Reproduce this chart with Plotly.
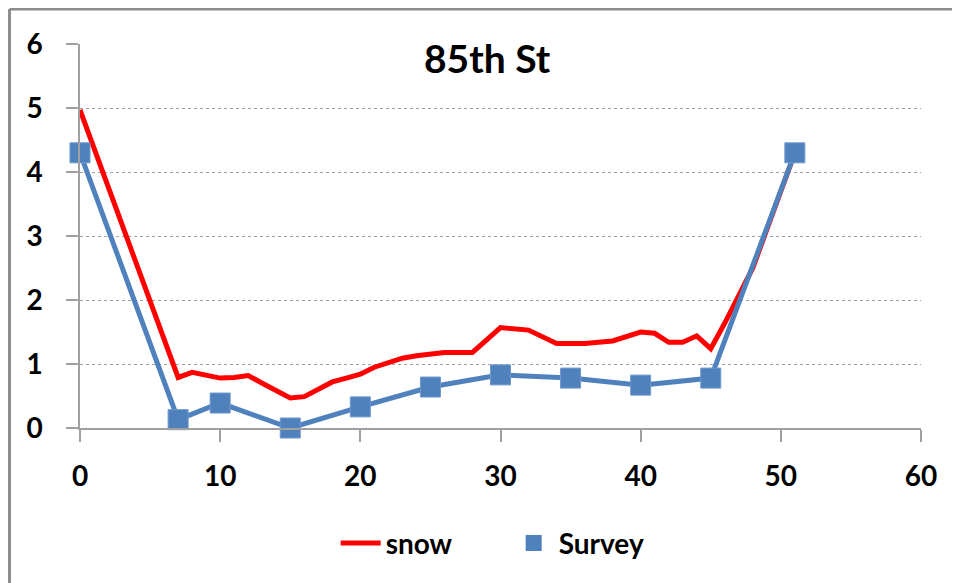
import plotly.graph_objects as go

# Snow profile (depth along transect)
snow_x = [0, 7, 8, 9, 10, 11, 12, 13, 14, 15, 16, 17, 18, 19, 20, 21, 22, 23, 24, 25,
          26, 27, 28, 30, 32, 34, 36, 38, 40, 41, 42, 43, 44, 45, 46, 48, 51]
snow_y = [4.97, 0.79, 0.87, 0.83, 0.78, 0.79, 0.82, 0.70, 0.58, 0.47, 0.49, 0.60, 0.72,
          0.78, 0.84, 0.95, 1.03, 1.09, 1.13, 1.16, 1.18, 1.18, 1.18, 1.57, 1.53, 1.32,
          1.32, 1.36, 1.50, 1.48, 1.34, 1.34, 1.44, 1.24, 1.64, 2.50, 4.30]

# Survey points
survey_x = [0, 7, 10, 15, 20, 25, 30, 35, 40, 45, 51]
survey_y = [4.30, 0.13, 0.39, 0.00, 0.33, 0.64, 0.83, 0.78, 0.67, 0.78, 4.30]

x_ticks = [0, 10, 20, 30, 40, 50, 60]
y_ticks = [0, 1, 2, 3, 4, 5, 6]
title_text = "85th St"

FONT = "Lato"
BLUE = "#4F81BD"
RED = "#FF0000"
AX = "#A0A0A0"

fig = go.Figure()
fig.add_trace(go.Scatter(x=snow_x, y=snow_y, mode="lines", name="snow",
                         line=dict(color=RED, width=5), cliponaxis=False))
fig.add_trace(go.Scatter(x=survey_x, y=survey_y, mode="lines+markers", name="Survey",
                         line=dict(color=BLUE, width=5),
                         marker=dict(symbol="square", size=20, color=BLUE,
                                     line=dict(color="#6E97CC", width=1)),
                         showlegend=False, cliponaxis=False))
fig.add_trace(go.Scatter(x=[None], y=[None], mode="markers", name="Survey",
                         marker=dict(symbol="square", size=19, color=BLUE)))

fig.update_layout(
    width=952, height=575,
    margin=dict(l=72, r=39, t=36, b=155, pad=0),
    paper_bgcolor="white", plot_bgcolor="white",
    font=dict(family=FONT, color="black"),
    showlegend=True,
    legend=dict(orientation="h", x=0.304, xanchor="left", y=-0.30, yanchor="middle",
                font=dict(family=FONT, size=28, weight="bold"),
                entrywidth=118, itemwidth=40),
    annotations=[dict(text=title_text, xref="paper", yref="paper", x=0.485, y=0.963,
                      xanchor="center", yanchor="middle", showarrow=False,
                      font=dict(family=FONT, size=39, weight="bold"))],
    shapes=[
        dict(type="line", xref="paper", yref="paper", x0=-0.0838, x1=-0.0838,
             y0=1.0911, y1=-0.5, line=dict(color="#8C8C8C", width=3)),
        dict(type="line", xref="paper", yref="paper", x0=-0.0838, x1=1.1,
             y0=1.0911, y1=1.0911, line=dict(color="#8C8C8C", width=3)),
    ],
)
fig.update_xaxes(range=[0, 60], tickvals=x_ticks, showgrid=False, zeroline=False,
                 showline=True, linecolor=AX, linewidth=1.5,
                 ticks="outside", ticklen=12, tickcolor=AX, tickwidth=1.5,
                 ticklabelstandoff=11,
                 tickfont=dict(family=FONT, size=28, weight="bold", color="black"))
fig.update_yaxes(range=[0, 6], tickvals=y_ticks, showgrid=True, gridcolor=AX,
                 griddash="dot", gridwidth=1, zeroline=False,
                 showline=True, linecolor=AX, linewidth=1.5,
                 ticks="outside", ticklen=12, tickcolor=AX, tickwidth=1.5,
                 ticklabelstandoff=18,
                 tickfont=dict(family=FONT, size=28, weight="bold", color="black"))

fig.write_html("out.html")
